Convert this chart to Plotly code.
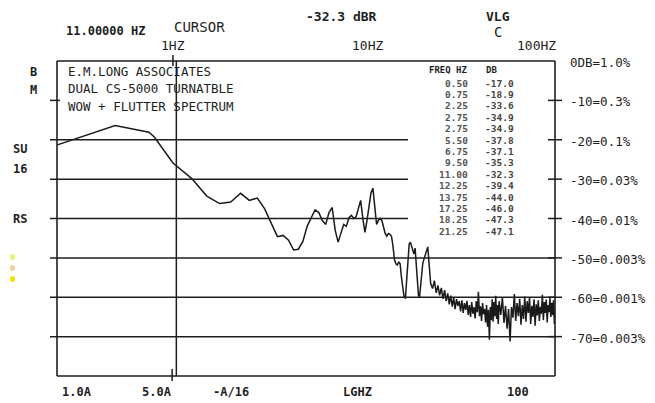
import plotly.graph_objects as go
import numpy as np

# smooth low-frequency part of the spectrum (Hz, dB)
FREQ_HZ = [0.25, 0.50, 0.75, 0.80, 1.00, 1.25, 1.50, 1.75, 2.00, 2.25, 2.50, 2.75,
           3.00, 3.25, 3.50, 3.75, 4.00, 4.25, 4.50, 4.75, 5.00, 5.25, 5.50, 5.75,
           6.00, 6.25, 6.50, 6.75, 7.00, 7.25, 7.50, 7.75, 8.00, 8.25, 8.50, 8.75,
           9.00, 9.25, 9.50, 9.75, 10.00, 10.25, 10.50, 10.75, 11.00, 11.25, 11.50,
           11.75, 12.00, 12.25, 12.50, 12.75, 13.00, 13.25, 13.50, 13.75, 14.00,
           14.25, 14.50, 14.75, 15.00, 15.25, 15.50, 15.75, 16.00, 16.25, 16.50,
           16.75, 17.00, 17.25, 17.50, 17.75, 18.00, 18.25, 18.50, 18.75, 19.00,
           19.25, 19.50, 19.75, 20.00, 20.25, 20.50, 20.75, 21.00, 21.25, 21.50, 21.75]
LEVEL_DB = [-21.3, -16.4, -18.1, -19.3, -25.9, -29.8, -34.3, -36.2, -35.8, -33.6, -35.4, -34.8,
            -37.5, -41.0, -44.6, -44.3, -45.5, -48.0, -47.8, -45.8, -42.0, -39.8, -37.8, -38.5,
            -40.5, -41.5, -38.5, -37.2, -43.0, -46.0, -43.5, -41.5, -42.0, -39.8, -39.2, -40.0,
            -39.5, -37.0, -35.4, -40.0, -43.5, -40.5, -37.0, -33.5, -32.3, -38.0, -41.5,
            -40.5, -40.0, -40.5, -42.5, -43.8, -44.5, -43.8, -44.0, -44.5, -47.0,
            -50.5, -51.5, -51.8, -51.0, -51.5, -55.0, -58.5, -60.0, -60.2, -55.0,
            -49.0, -46.5, -46.0, -47.0, -48.0, -49.0, -47.5, -52.0, -56.5, -59.5,
            -60.0, -57.0, -54.0, -51.5, -50.5, -49.5, -48.5, -48.0, -47.2, -50.5, -54.5]

# noisy high-frequency part
NOISE_FREQ_HZ = [22.0, 22.5, 23.0, 23.5, 24.0, 24.5, 25.0, 25.5, 26.0, 26.5, 27.0, 27.5,
                 28.0, 28.5, 29.0, 29.5, 30.0, 30.5, 31.0, 31.5, 32.0, 32.5, 33.0, 33.5,
                 34.0, 34.5, 35.0, 35.5, 36.0, 36.5, 37.0, 37.5, 38.0, 38.5, 39.0, 39.5,
                 40.0, 40.5, 41.0, 41.5, 42.0, 42.5, 43.0, 43.5, 44.0, 44.5, 45.0, 45.5,
                 46.0, 46.5, 47.0, 47.5, 48.0, 48.5, 49.0, 49.5,
                 50, 51, 52, 53, 54, 55, 56, 57, 58, 59, 60, 61, 62, 63, 64, 65, 66, 67,
                 68, 69, 70, 71, 72, 73, 74, 75, 76, 77, 78, 79, 80, 81, 82, 83, 84, 85,
                 86, 87, 88, 89, 90, 91, 92, 93, 94, 95, 96, 97, 98, 99, 100]
NOISE_DB = [-56.5, -57.8, -55.8, -58.9, -57.0, -59.5, -57.6, -60.4, -58.2, -61.0, -59.0, -61.8,
            -59.6, -62.4, -60.1, -63.0, -60.5, -62.2, -61.0, -63.6, -60.8, -64.0, -61.5, -63.2,
            -60.9, -64.5, -62.0, -65.0, -61.2, -64.2, -62.5, -65.4, -61.0, -63.8, -58.6, -64.8,
            -62.3, -66.0, -61.5, -64.3, -63.0, -66.4, -62.0, -67.5, -63.2, -70.8, -62.5, -65.8,
            -60.5, -66.2, -61.2, -64.8, -59.6, -65.5, -62.0, -66.8,
            -61.0, -64.5, -60.0, -66.5, -62.2, -68.0, -63.0, -71.2, -62.5, -65.2, -59.2, -66.0,
            -61.5, -64.8, -60.4, -67.0, -62.0, -65.5, -59.8, -66.2, -61.0, -64.0, -60.0, -66.8,
            -62.2, -65.0, -60.5, -67.2, -61.8, -64.6, -60.8, -66.0, -62.4, -64.2, -59.4, -65.8,
            -61.2, -64.0, -60.6, -66.4, -62.0, -63.8, -60.2, -65.0, -61.4, -64.5, -60.8, -66.8,
            -63.5, -68.5, -69.0]

TABLE_FREQ = ["0.50", "0.75", "2.25", "2.75", "2.75", "5.50", "6.75", "9.50",
              "11.00", "12.25", "13.75", "17.25", "18.25", "21.25"]
TABLE_DB = ["-17.0", "-18.9", "-33.6", "-34.9", "-34.9", "-37.8", "-37.1", "-35.3",
            "-32.3", "-39.4", "-44.0", "-46.0", "-47.3", "-47.1"]

RIGHT_LEVELS = [0, -10, -20, -30, -40, -50, -60, -70]
RIGHT_LABELS = ["0DB=1.0%", "-10=0.3%", "-20=0.1%", "-30=0.03%", "-40=0.01%",
                "-50=0.003%", "-60=0.001%", "-70=0.003%"]
GRID_SHORT = [-20, -30, -40]   # hidden behind the readout table
GRID_FULL = [-50, -60, -70]

TOP_TICKS = [1, 10, 100]
TOP_TICK_LABELS = ["1HZ", "10HZ", "100HZ"]
CURSOR_HZ = 11.0

TITLE_LINES = ["E.M.LONG ASSOCIATES", "DUAL CS-5000 TURNATBLE", "WOW + FLUTTER SPECTRUM"]
BOTTOM_LABELS = ["1.0A", "5.0A", "-A/16", "LGHZ", "100"]
SIDE_LABELS = ["B", "M", "SU", "16", "RS"]

# page body has an 8px margin, so the figure is drawn 8px smaller
OFF = 8
W, H = 655 - OFF, 403 - OFF
L, T = 57 - OFF, 61 - OFF
PW, PH = 498, 315
R, B = W - L - PW, H - T - PH
INK = "#1e1e1e"
MONO = "DejaVu Sans Mono"


# positions below are in page pixels
def px(x):
    return (x - 57) / PW


def py(y):
    return (376 - y) / PH


fig = go.Figure()
fig.add_trace(go.Scatter(x=FREQ_HZ + NOISE_FREQ_HZ, y=LEVEL_DB + NOISE_DB, mode="lines",
                         line=dict(color="#1a1a1a", width=1.5), hoverinfo="skip"))

shapes = []
# frame
for x0, y0, x1, y1 in [(0, 0, 1, 0), (0, 1, 1, 1), (0, 0, 0, 1), (1, 0, 1, 1)]:
    shapes.append(dict(type="line", xref="paper", yref="paper", x0=x0, y0=y0, x1=x1, y1=y1,
                       line=dict(color=INK, width=1.6)))
for lv in GRID_SHORT:
    shapes.append(dict(type="line", xref="paper", yref="y", x0=px(50), x1=px(408), y0=lv, y1=lv,
                       line=dict(color=INK, width=1.5)))
for lv in GRID_FULL:
    shapes.append(dict(type="line", xref="paper", yref="y", x0=px(50), x1=1, y0=lv, y1=lv,
                       line=dict(color=INK, width=1.5)))
# left tick at -10 and right ticks
shapes.append(dict(type="line", xref="paper", yref="y", x0=px(50), x1=px(60), y0=-10, y1=-10,
                   line=dict(color=INK, width=1.5)))
for lv in RIGHT_LEVELS[1:]:
    shapes.append(dict(type="line", xref="paper", yref="y", x0=px(548), x1=px(562), y0=lv, y1=lv,
                       line=dict(color=INK, width=1.5)))
# top / bottom ticks
for f in TOP_TICKS[:2]:
    shapes.append(dict(type="line", xref="x", yref="paper", x0=np.log10(f), x1=np.log10(f),
                       y0=py(66), y1=py(55), line=dict(color=INK, width=1.5)))
    shapes.append(dict(type="line", xref="x", yref="paper", x0=np.log10(f) - 0.01, x1=np.log10(f) - 0.01,
                       y0=py(381), y1=py(369), line=dict(color=INK, width=1.5)))
# cursor
shapes.append(dict(type="line", xref="x", yref="paper", x0=np.log10(CURSOR_HZ), x1=np.log10(CURSOR_HZ),
                   y0=0, y1=1, line=dict(color=INK, width=1.5)))
# coloured indicator dots
for yy, c in [(257, "#e6f07a"), (268, "#f3cf9e"), (279, "#f2e200")]:
    shapes.append(dict(type="circle", xref="paper", yref="paper", x0=px(10), x1=px(15),
                       y0=py(yy - 3), y1=py(yy + 3), fillcolor=c, line=dict(width=0)))

ann = []


def text(x, y, s, size=12, anchor="left", color=INK, bold=False):
    ann.append(dict(xref="paper", yref="paper", x=px(x), y=py(y), text=f"<b>{s}</b>" if bold else s,
                    showarrow=False, xanchor=anchor, yanchor="middle",
                    font=dict(family=MONO, size=size, color=color)))


text(341, 16, "-32.3 dBR", 13, "center", bold=True)
text(498, 16, "VLG", 13, "center", bold=True)
text(498, 32, "C", 14, "center")
text(105, 31, "11.00000 HZ", 12, "center", bold=True)
text(199, 27, "CURSOR", 14, "center")
for f, s in zip(TOP_TICKS, TOP_TICK_LABELS):
    xx = 57 + (np.log10(f) + 0.604) * 192
    if f == 100:
        text(558, 46, s, 13, "right")
    else:
        text(xx + (3 if f == 10 else 0), 46, s, 13, "center")
for i, s in enumerate(TITLE_LINES):
    text(66, 71 + 17.5 * i, s, 12.5)
for s, (x, y) in zip(SIDE_LABELS, [(33, 72), (33, 90), (20, 149), (20, 169), (20, 219)]):
    text(x, y, s, 12, "center", bold=True)
for lv, s in zip(RIGHT_LEVELS, RIGHT_LABELS):
    ann.append(dict(xref="paper", yref="y", x=px(568), y=lv - 0.4, text=s, showarrow=False,
                    xanchor="left", yanchor="middle", font=dict(family=MONO, size=12.5, color=INK)))
text(470, 70, "FREQ HZ", 9, "right", bold=True)
text(484, 70, "DB", 9, "left", bold=True)
for i, (f, d) in enumerate(zip(TABLE_FREQ, TABLE_DB)):
    yy = 83 + 11.4 * i
    text(470, yy, f, 9.5, "right", color="#555555", bold=True)
    text(483, yy, d, 9.5, "left", color="#444444", bold=True)
for s, x in zip(BOTTOM_LABELS, [77, 157, 231, 357, 518]):
    text(x, 392, s, 12, "center", bold=True)

fig.update_layout(
    width=W, height=H, margin=dict(l=L, r=R, t=T, b=B),
    paper_bgcolor="white", plot_bgcolor="white", showlegend=False,
    xaxis=dict(type="log", range=[-0.604, 1.99], showgrid=False, zeroline=False,
               showticklabels=False, ticks=""),
    yaxis=dict(range=[-80, 0], showgrid=False, zeroline=False, showticklabels=False, ticks=""),
    shapes=shapes, annotations=ann,
)

fig.write_html("out.html")
